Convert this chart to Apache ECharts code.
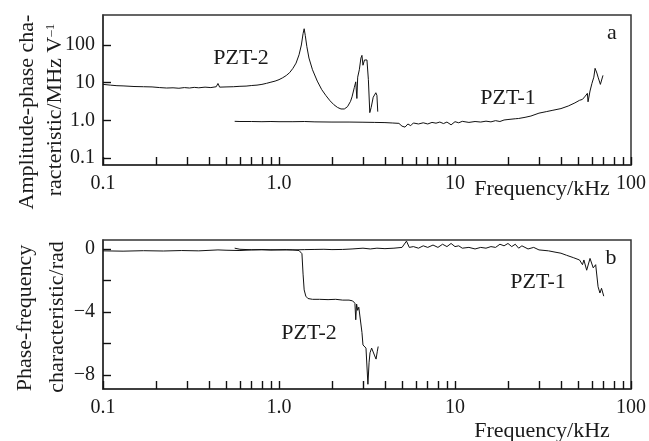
<!DOCTYPE html>
<html>
<head>
<meta charset="utf-8">
<script src="https://cdn.jsdelivr.net/npm/echarts@6/dist/echarts.min.js"></script>
<style>
html, body { margin: 0; background: #fff; }
#chart { width: 649px; height: 441px; }
</style>
</head>
<body>
<div id="chart"></div>
<script>
// frequency in kHz
var ampFreq2 = [0.10, 0.11, 0.12, 0.13, 0.15, 0.17, 0.19, 0.21, 0.23, 0.25, 0.27, 0.29, 0.31, 0.33, 0.35, 0.38, 0.41, 0.44, 0.45, 0.46, 0.50, 0.55, 0.60, 0.65, 0.70, 0.75, 0.80, 0.85, 0.90, 0.95, 1.00, 1.05, 1.10, 1.15, 1.20, 1.25, 1.30, 1.34, 1.37, 1.39, 1.41, 1.44, 1.48, 1.55, 1.65, 1.75, 1.85, 1.95, 2.05, 2.15, 2.25, 2.35, 2.45, 2.55, 2.60, 2.68, 2.73, 2.77, 2.80, 2.86, 2.92, 2.96, 3.00, 3.06, 3.12, 3.16, 3.22, 3.28, 3.34, 3.43, 3.55, 3.60, 3.64];
var ampVal2 = [9.0, 8.6, 8.3, 8.2, 7.9, 7.8, 7.7, 7.4, 7.2, 7.3, 7.1, 7.4, 7.2, 7.5, 7.3, 7.6, 7.4, 7.8, 9.5, 7.6, 7.7, 7.8, 8.0, 8.1, 8.4, 8.6, 9.0, 9.6, 10.3, 11.0, 12.0, 13.5, 15.5, 18.5, 24, 33, 55, 100, 200, 270, 180, 90, 45, 22, 11, 6.5, 4.5, 3.3, 2.6, 2.2, 2.0, 2.0, 2.3, 3.2, 4.2, 7.5, 10.5, 3.8, 14, 22, 45, 53, 29, 40, 45, 40, 12, 1.6, 2.2, 4.1, 5.4, 4.6, 1.7];

var ampFreq1 = [0.56, 0.6, 0.7, 0.8, 0.9, 1.0, 1.2, 1.4, 1.6, 2.0, 2.5, 3.0, 3.5, 4.0, 4.4, 4.8, 5.0, 5.2, 5.4, 5.6, 5.8, 6.2, 6.6, 7.0, 7.4, 7.8, 8.2, 8.6, 9.0, 9.5, 10, 10.5, 11, 12, 13, 14, 15, 16, 17, 18, 19, 20, 22, 23, 25, 27, 30, 33, 36, 40, 44, 48, 51, 53, 55, 56.5, 57, 58.5, 60, 61.5, 62.5, 64, 65, 67, 68.4, 69.3];
var ampVal1 = [0.94, 0.93, 0.93, 0.92, 0.93, 0.92, 0.92, 0.93, 0.91, 0.90, 0.90, 0.89, 0.88, 0.87, 0.85, 0.83, 0.70, 0.66, 0.80, 0.72, 0.85, 0.80, 0.86, 0.80, 0.88, 0.84, 0.90, 0.82, 0.90, 0.76, 0.92, 0.86, 0.94, 0.88, 0.93, 0.90, 0.95, 0.91, 0.98, 0.93, 1.02, 1.05, 1.10, 1.12, 1.20, 1.30, 1.55, 1.70, 1.85, 2.05, 2.4, 2.9, 3.4, 3.6, 4.4, 5.2, 3.1, 6.0, 9.6, 14, 24, 18, 14, 9, 8.5, 15.6];

var phFreq2 = [0.10, 0.13, 0.17, 0.22, 0.28, 0.35, 0.45, 0.50, 0.60, 0.70, 0.80, 0.90, 1.0, 1.1, 1.2, 1.3, 1.35, 1.37, 1.39, 1.42, 1.46, 1.55, 1.7, 1.9, 2.1, 2.3, 2.5, 2.62, 2.70, 2.73, 2.76, 2.80, 2.84, 2.90, 2.96, 3.00, 3.06, 3.12, 3.20, 3.25, 3.29, 3.36, 3.43, 3.50, 3.56, 3.62, 3.66];
var phVal2 = [-0.12, -0.14, -0.11, -0.13, -0.10, -0.12, -0.06, -0.08, -0.10, -0.06, -0.05, -0.07, -0.05, -0.04, -0.06, -0.10, -0.30, -1.6, -2.6, -3.0, -3.15, -3.2, -3.2, -3.22, -3.2, -3.25, -3.25, -3.3, -3.45, -4.5, -3.5, -3.9, -3.7, -3.8, -5.3, -6.1, -6.1, -6.3, -8.6, -7.2, -6.6, -6.3, -6.4, -6.8, -7.0, -6.5, -6.2];

var phFreq1 = [0.56, 0.6, 0.7, 0.8, 0.9, 1.0, 1.2, 1.4, 1.6, 1.8, 2.0, 2.3, 2.6, 3.0, 3.3, 3.6, 4.0, 4.5, 5.0, 5.3, 5.5, 5.8, 6.2, 6.6, 7.0, 7.5, 8.0, 8.5, 9.0, 9.5, 10, 10.5, 11, 12, 13, 14, 15, 16, 17, 18, 19, 20, 21, 22, 23, 24, 26, 28, 30, 34, 37, 40, 43, 47, 51, 53, 54, 56, 58.5, 61, 63, 65, 66.6, 68, 70];
var phVal1 = [0.05, -0.02, -0.05, -0.04, -0.05, -0.06, -0.06, -0.04, -0.03, -0.02, -0.04, -0.03, 0.0, 0.05, 0.0, 0.05, 0.02, 0.05, 0.1, 0.5, 0.1, 0.15, 0.05, 0.2, 0.1, 0.25, 0.1, 0.3, 0.15, 0.35, 0.15, 0.2, 0.05, 0.1, 0.0, 0.1, 0.05, 0.15, 0.1, 0.3, 0.2, 0.35, 0.15, 0.3, 0.05, 0.2, 0.0, 0.1, -0.06, -0.12, -0.2, -0.27, -0.4, -0.55, -0.7, -1.0, -0.7, -1.35, -0.6, -1.2, -1.0, -2.4, -2.8, -2.5, -3.0];

var xTickValues = [0.1, 0.2, 0.3, 0.4, 0.5, 0.6, 0.7, 0.8, 0.9, 1, 2, 3, 4, 5, 6, 7, 8, 9, 10, 20, 30, 40, 50, 60, 70, 80, 90, 100];
var xLabels = ['0.1', '1.0', '10', '100'];
var ampLabels = ['0.1', '1.0', '10', '100'];
var phTicks = [-8, -6, -4, -2, 0];
var phLabels = [-8, -4, 0];

var serif = '"Liberation Serif", "DejaVu Serif", serif';
var ink = '#1a1a1a';
var tickStyle = { color: '#111', width: 1.4 };

function logPairs(fs, vs) {
    return fs.map(function (f, i) { return [Math.log10(f), Math.log10(vs[i])]; });
}
function phasePairs(fs, vs) {
    return fs.map(function (f, i) { return [Math.log10(f), vs[i]]; });
}

function xAxisFor(grid) {
    return {
        type: 'value', gridIndex: grid, min: -1, max: 2,
        axisLine: { show: true, onZero: false, lineStyle: { color: '#333', width: 1.5 } },
        axisTick: { show: true, inside: true, length: 8, lineStyle: tickStyle,
            customValues: xTickValues.map(function (v) { return Math.log10(v); }) },
        axisLabel: { customValues: [-1, 0, 1, 2], margin: 9, color: ink, fontFamily: serif, fontSize: 20,
            formatter: function (v) { return xLabels[Math.round(v) + 1]; } },
        splitLine: { show: false }
    };
}

var chart = echarts.init(document.getElementById('chart'), null, { renderer: 'canvas' });

var lineStyle = { color: '#111', width: 1 };

chart.setOption({
    animation: false,
    backgroundColor: '#fff',
    grid: [
        { left: 103, right: 18, top: 15, height: 150, show: true, borderColor: '#333', borderWidth: 1.5 },
        { left: 103, right: 18, top: 240, height: 149, show: true, borderColor: '#333', borderWidth: 1.5 }
    ],
    xAxis: [xAxisFor(0), xAxisFor(1)],
    yAxis: [
        {
            type: 'value', gridIndex: 0, min: -1.186, max: 2.796,
            axisLine: { show: true, onZero: false, lineStyle: { color: '#333', width: 1.5 } },
            axisTick: { show: true, inside: true, length: 8, lineStyle: tickStyle, customValues: [-1, 0, 1, 2] },
            axisLabel: { customValues: [-1, 0, 1, 2], margin: 8, color: ink, fontFamily: serif, fontSize: 20,
                formatter: function (v) { return ampLabels[Math.round(v) + 1]; } },
            splitLine: { show: false }
        },
        {
            type: 'value', gridIndex: 1, min: -8.9, max: 0.57,
            axisLine: { show: true, onZero: false, lineStyle: { color: '#333', width: 1.5 } },
            axisTick: { show: true, inside: true, length: 8, lineStyle: tickStyle, customValues: phTicks },
            axisLabel: { customValues: phLabels, margin: 8, color: ink, fontFamily: serif, fontSize: 20,
                formatter: function (v) { return v < 0 ? '\u2212' + (-v) : '0'; } },
            splitLine: { show: false }
        }
    ],
    series: [
        { type: 'line', xAxisIndex: 0, yAxisIndex: 0, showSymbol: false, lineStyle: lineStyle, data: logPairs(ampFreq2, ampVal2) },
        { type: 'line', xAxisIndex: 0, yAxisIndex: 0, showSymbol: false, lineStyle: lineStyle, data: logPairs(ampFreq1, ampVal1) },
        { type: 'line', xAxisIndex: 1, yAxisIndex: 1, showSymbol: false, lineStyle: lineStyle, data: phasePairs(phFreq2, phVal2) },
        { type: 'line', xAxisIndex: 1, yAxisIndex: 1, showSymbol: false, lineStyle: lineStyle, data: phasePairs(phFreq1, phVal1) }
    ],
    graphic: [
        // top panel texts
        { type: 'text', x: 241, y: 58, style: { text: 'PZT-2', font: '22px ' + serif, fill: ink, align: 'center', verticalAlign: 'middle' } },
        { type: 'text', x: 508, y: 98, style: { text: 'PZT-1', font: '22px ' + serif, fill: ink, align: 'center', verticalAlign: 'middle' } },
        { type: 'text', x: 612, y: 33, style: { text: 'a', font: '22px ' + serif, fill: ink, align: 'center', verticalAlign: 'middle' } },
        { type: 'text', x: 542, y: 189, style: { text: 'Frequency/kHz', font: '22px ' + serif, fill: ink, align: 'center', verticalAlign: 'middle' } },
        // bottom panel texts
        { type: 'text', x: 309, y: 333, style: { text: 'PZT-2', font: '22px ' + serif, fill: ink, align: 'center', verticalAlign: 'middle' } },
        { type: 'text', x: 538, y: 282, style: { text: 'PZT-1', font: '22px ' + serif, fill: ink, align: 'center', verticalAlign: 'middle' } },
        { type: 'text', x: 611, y: 258, style: { text: 'b', font: '22px ' + serif, fill: ink, align: 'center', verticalAlign: 'middle' } },
        { type: 'text', x: 542, y: 431, style: { text: 'Frequency/kHz', font: '22px ' + serif, fill: ink, align: 'center', verticalAlign: 'middle' } },
        // rotated y titles
        { type: 'text', x: 27, y: 112, rotation: Math.PI / 2, style: { text: 'Amplitude-phase cha-', font: '22px ' + serif, fill: ink, align: 'center', verticalAlign: 'middle' } },
        { type: 'text', x: 55, y: 110, rotation: Math.PI / 2, style: {
            text: 'racteristic/MHz V{s|\u20131}', font: '22px ' + serif, fill: ink, align: 'center', verticalAlign: 'middle',
            rich: { s: { font: '13px ' + serif, fill: ink, verticalAlign: 'top', padding: [0, 0, 8, 0] } } } },
        { type: 'text', x: 25, y: 318, rotation: Math.PI / 2, style: { text: 'Phase-frequency', font: '22px ' + serif, fill: ink, align: 'center', verticalAlign: 'middle' } },
        { type: 'text', x: 57, y: 317, rotation: Math.PI / 2, style: { text: 'characteristic/rad', font: '22px ' + serif, fill: ink, align: 'center', verticalAlign: 'middle' } }
    ]
});
</script>
</body>
</html>
